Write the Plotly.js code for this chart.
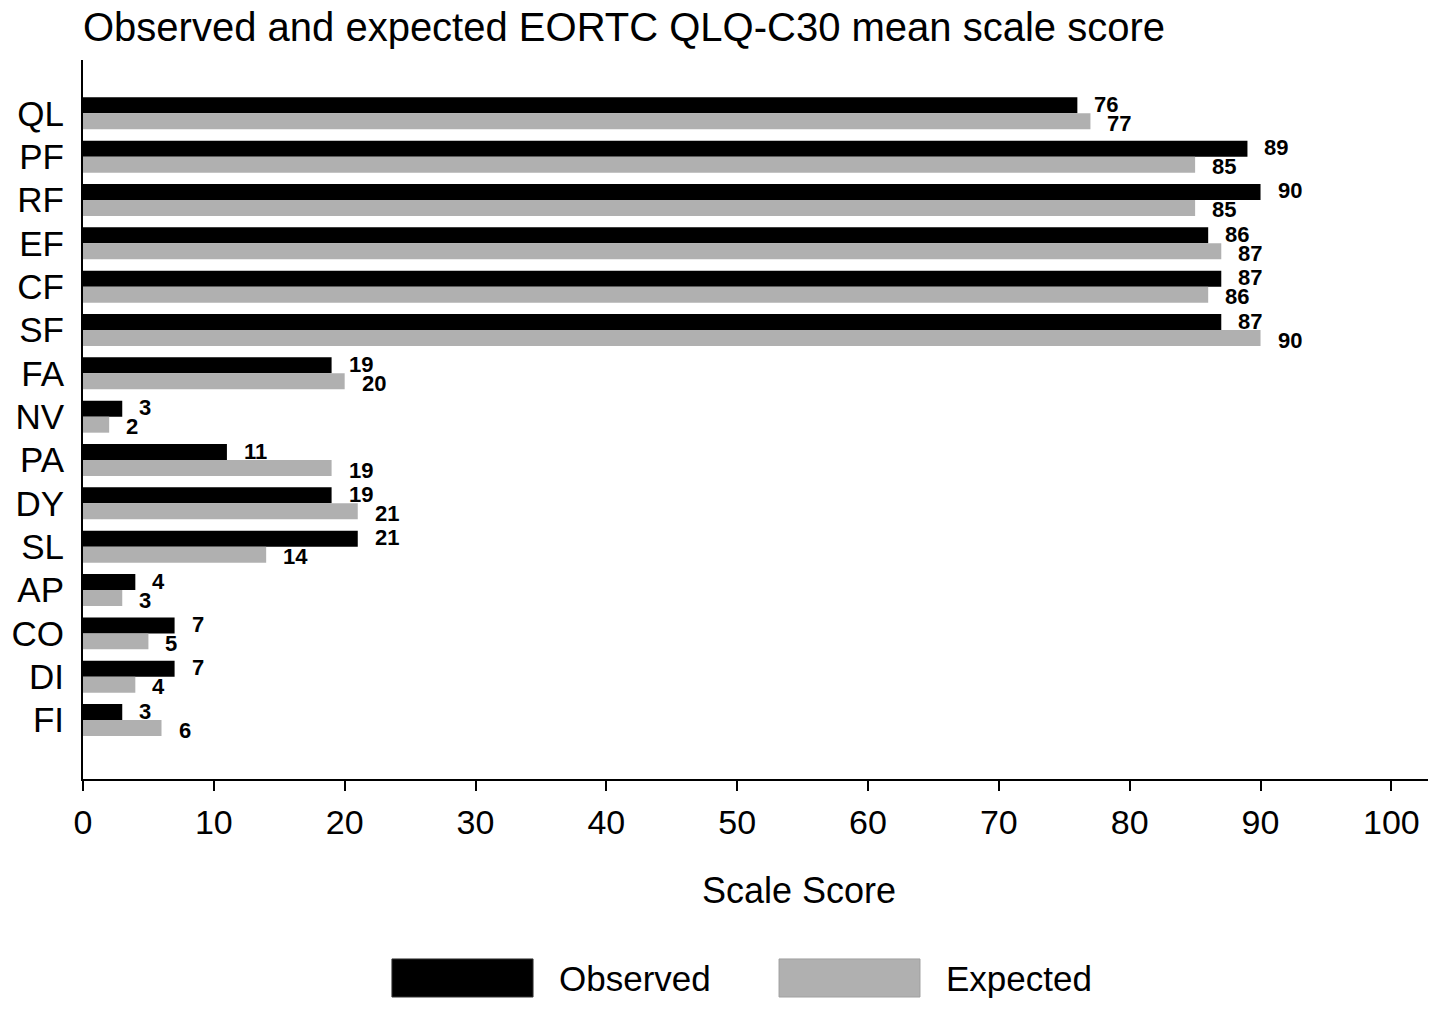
<!DOCTYPE html>
<html>
<head>
<meta charset="utf-8">
<script src="https://cdn.plot.ly/plotly-3.0.1.min.js"></script>
<style>html,body{margin:0;padding:0;background:#fff;}#chart{width:1441px;height:1011px;}</style>
</head>
<body>
<div id="chart"></div>
<script>
const categories = ['QL','PF','RF','EF','CF','SF','FA','NV','PA','DY','SL','AP','CO','DI','FI'];
const observed = [76,89,90,86,87,87,19,3,11,19,21,4,7,7,3];
const expected = [77,85,85,87,86,90,20,2,19,21,14,3,5,4,6];
const xTicks = [0,10,20,30,40,50,60,70,80,90,100];
const seriesNames = ['Observed','Expected'];
const seriesColors = ['#000000','#b0b0b0'];

const FONT = 'Liberation Sans, Arial, Helvetica, sans-serif';

const traces = [observed, expected].map((vals, i) => ({
  type: 'bar',
  orientation: 'h',
  name: seriesNames[i],
  y: categories,
  x: vals,
  marker: {color: seriesColors[i], line: {width: 0}},
  hoverinfo: 'skip',
  showlegend: false
}));

const annotations = [];
[observed, expected].forEach((vals, i) => {
  vals.forEach((v, k) => {
    annotations.push({
      xref: 'x', yref: 'y', x: v, y: categories[k],
      text: String(v), showarrow: false,
      xanchor: 'left', yanchor: 'middle',
      xshift: 15, yshift: i === 0 ? 9 : -10,
      font: {family: FONT, size: 22, color: '#000', weight: 'bold'}
    });
  });
});

// axis title placed as in the reference
annotations.push({
  xref: 'paper', yref: 'paper', x: 0.5323, y: -0.1544,
  text: 'Scale Score', showarrow: false, xanchor: 'center', yanchor: 'middle',
  font: {family: FONT, size: 36, color: '#000'}
});

// legend labels
annotations.push({
  xref: 'paper', yref: 'paper', x: 0.3524, y: -0.2768,
  text: seriesNames[0], showarrow: false, xanchor: 'left', yanchor: 'middle',
  font: {family: FONT, size: 35, color: '#000'}
});
annotations.push({
  xref: 'paper', yref: 'paper', x: 0.6401, y: -0.2768,
  text: seriesNames[1], showarrow: false, xanchor: 'left', yanchor: 'middle',
  font: {family: FONT, size: 35, color: '#000'}
});

const shapes = [
  {type: 'rect', xref: 'paper', yref: 'paper', x0: 0.2297, x1: 0.3346, y0: -0.2503, y1: -0.3032,
   fillcolor: seriesColors[0], line: {width: 1, color: '#333'}},
  {type: 'rect', xref: 'paper', yref: 'paper', x0: 0.5175, x1: 0.6223, y0: -0.2503, y1: -0.3032,
   fillcolor: seriesColors[1], line: {width: 1, color: '#a0a0a0'}}
];

const layout = {
  width: 1441, height: 1011,
  margin: {l: 83, r: 13, t: 60, b: 232},
  paper_bgcolor: '#fff', plot_bgcolor: '#fff',
  font: {family: FONT, color: '#000'},
  title: {
    text: 'Observed and expected EORTC QLQ-C30 mean scale score',
    font: {family: FONT, size: 40, color: '#000'},
    xref: 'paper', x: 0, xanchor: 'left',
    yref: 'container', y: 1 - 27/1011, yanchor: 'middle'
  },
  barmode: 'group',
  bargap: 0.262,
  bargroupgap: 0,
  showlegend: false,
  hovermode: false,
  xaxis: {
    range: [0, 102.8],
    tickvals: xTicks,
    ticktext: xTicks.map(String),
    ticks: 'outside', ticklen: 10, tickwidth: 2, tickcolor: '#000',
    showline: true, linecolor: '#000', linewidth: 2,
    showgrid: false, zeroline: false,
    tickfont: {family: FONT, size: 34, color: '#000'},
    ticklabelstandoff: 2
  },
  yaxis: {
    type: 'category',
    categoryorder: 'array', categoryarray: categories,
    range: [15.36, -1.23],
    ticks: '',
    showline: true, linecolor: '#000', linewidth: 2,
    showgrid: false, zeroline: false,
    tickfont: {family: FONT, size: 35, color: '#000'},
    ticklabelstandoff: 10
  },
  annotations: annotations,
  shapes: shapes
};

Plotly.newPlot('chart', traces, layout, {displayModeBar: false, staticPlot: true});
</script>
</body>
</html>
